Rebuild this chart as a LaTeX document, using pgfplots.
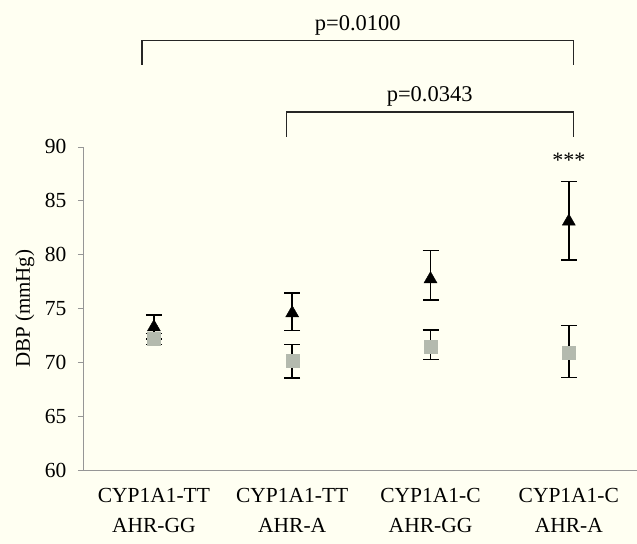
\documentclass[border=0pt]{standalone}
\usepackage{pgfplots}
\pgfplotsset{compat=1.18}
\usepackage{fontspec}
\setmainfont{Liberation Serif}
\definecolor{bg}{RGB}{255,255,242}
\definecolor{sq}{RGB}{180,186,174}
\definecolor{axgray}{RGB}{150,150,150}
\pgfplotstableread{
x y ep em
1 73.3 1.1 1.1
2 74.6 1.85 1.6
3 77.75 2.65 1.95
4 83.1 3.7 3.6
}\tri
\pgfplotstableread{
x y ep em
1 72.2 0.5 0.5
2 70.15 1.55 1.55
3 71.5 1.55 1.2
4 70.95 2.5 2.3
}\sqr
\begin{document}
\fontsize{22}{26}\selectfont
\begin{tikzpicture}
\fill[bg] (-83pt,-73pt) rectangle (554pt,471pt);
\begin{axis}[
  at={(0pt,0pt)}, anchor=south west,
  scale only axis, width=554pt, height=324pt,
  xmin=0.487, xmax=4.49, ymin=60, ymax=90,
  axis lines*=left,
  axis line style={axgray, line width=0.8pt, -},
  ytick={60,65,...,90}, xtick={1,2,3,4},
  xticklabels={{CYP1A1-TT\\AHR-GG},{CYP1A1-TT\\AHR-A},{CYP1A1-C\\AHR-GG},{CYP1A1-C\\AHR-A}},
  xticklabel style={align=center, yshift=-5pt, font=\fontsize{21.5}{30}\selectfont},
  yticklabel style={font=\fontsize{21.5}{26}\selectfont, xshift=-4pt},
  major x tick style={draw=none},
  major y tick style={axgray, line width=0.8pt},
  tick align=outside, major tick length=5pt,
  /pgf/number format/assume math mode=true,
  ylabel={DBP (mmHg)},
  ylabel style={at={(axis description cs:-0.105,0.5)}, anchor=center, font=\fontsize{21}{26}\selectfont},
  clip=false,
]
\addplot[only marks, mark=triangle*, mark size=7.5pt, mark options={fill=black, draw=black},
  error bars/.cd, y dir=both, y explicit,
  error bar style={black, line width=1.6pt},
  error mark options={black, rotate=90, mark size=8pt, line width=1.6pt}]
  table[x=x, y=y, y error plus=ep, y error minus=em] {\tri};
\addplot[only marks, mark=square*, mark size=6.5pt, mark options={fill=sq, draw=sq},
  error bars/.cd, y dir=both, y explicit,
  error bar style={black, line width=1.6pt},
  error mark options={black, rotate=90, mark size=8pt, line width=1.6pt}]
  table[x=x, y=y, y error plus=ep, y error minus=em] {\sqr};
\draw[line width=1.3pt, black!85] (axis cs:0.913,97.6) -- (axis cs:0.913,99.84) -- (axis cs:4.036,99.84) -- (axis cs:4.036,97.6);
\draw[line width=1.3pt, black!85] (axis cs:1.957,90.93) -- (axis cs:1.957,93.24) -- (axis cs:4.036,93.24) -- (axis cs:4.036,90.93);
\node[font=\fontsize{22.5}{26}\selectfont] at (axis cs:2.474,101.3) {p=0.0100};
\node[font=\fontsize{22.5}{26}\selectfont] at (axis cs:2.994,94.7) {p=0.0343};
\node at (axis cs:4,88.8) {***};
\end{axis}
\end{tikzpicture}
\end{document}
